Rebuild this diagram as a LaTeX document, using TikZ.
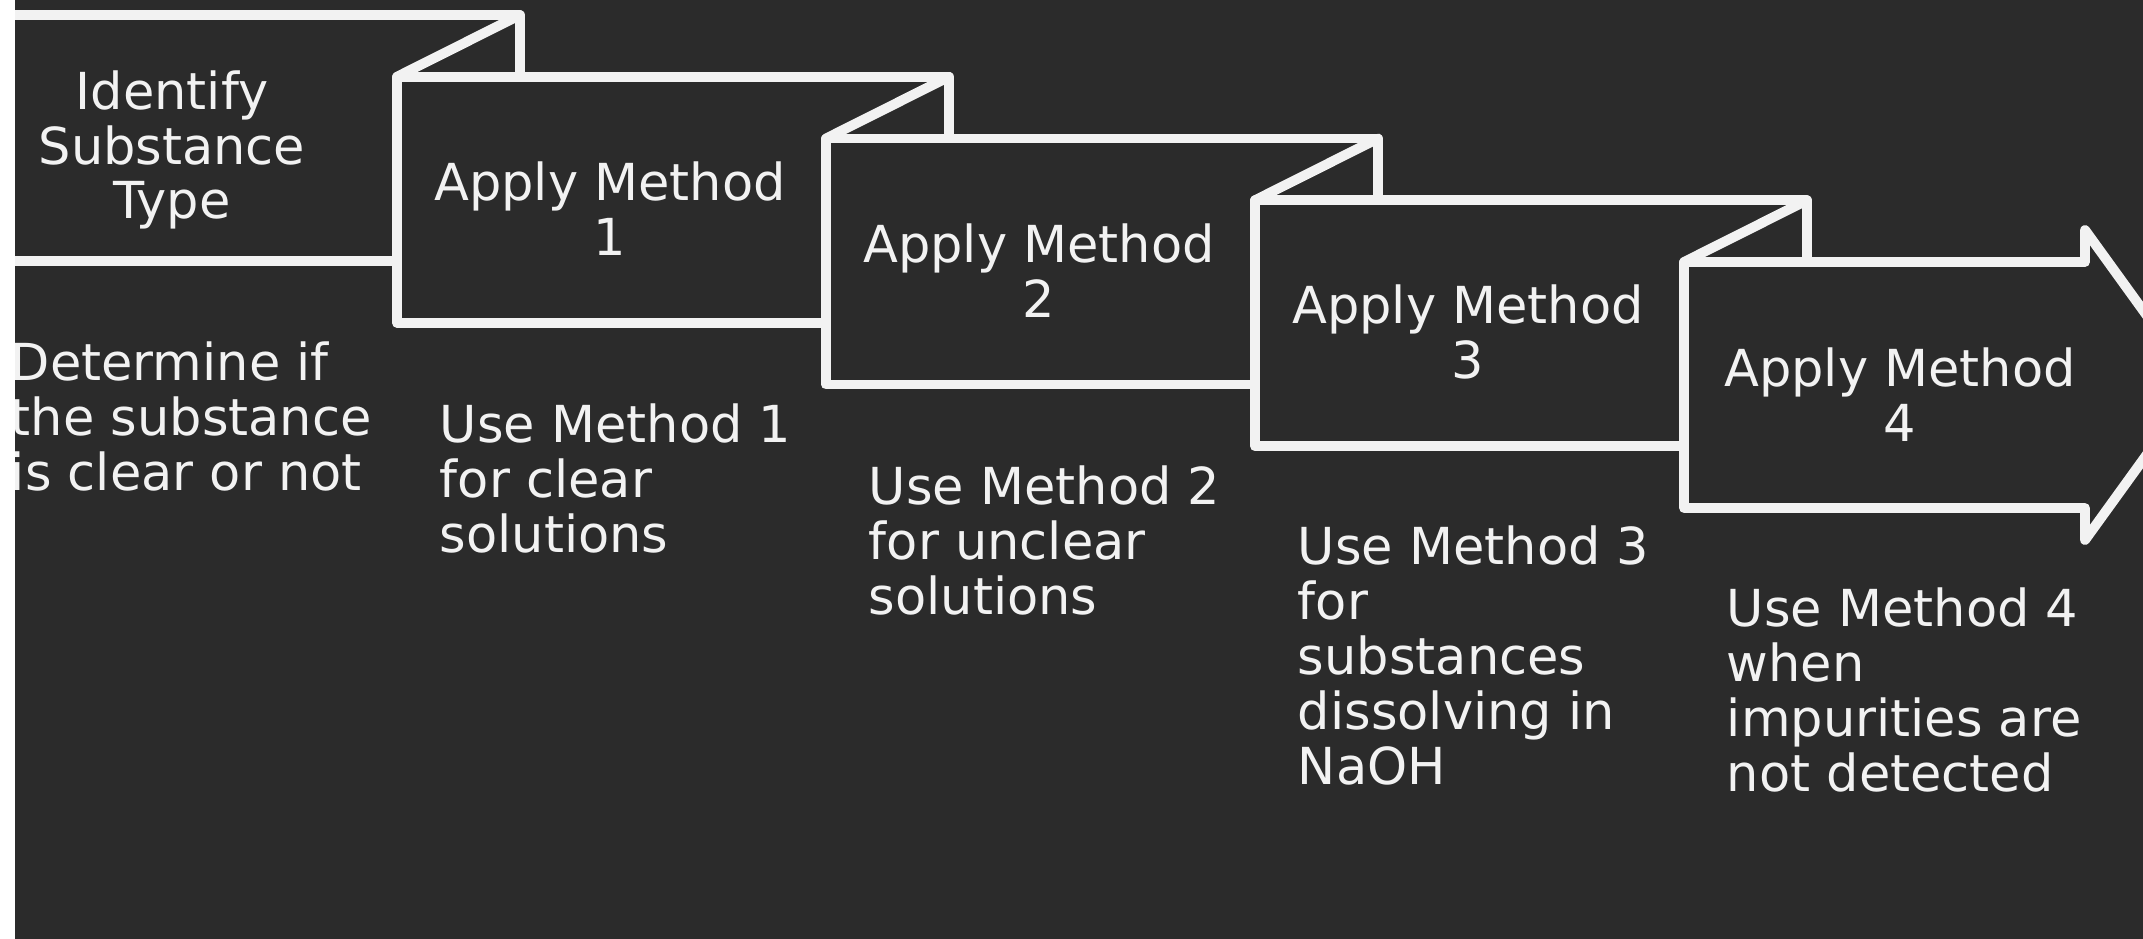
\documentclass[tikz,border=0pt]{standalone}
\usepackage{fontspec}
\setmainfont{DejaVu Sans}
\usepackage{tikz}
\definecolor{board}{HTML}{2B2B2B}
\definecolor{chalk}{HTML}{F2F2F2}

\begin{document}
\begin{tikzpicture}[x=0.01cm,y=-0.01cm,line width=2.8pt,line join=round,line cap=round,
        stage/.style={draw=chalk,fill=board},
        fold/.style={draw=chalk},
        title/.style={text=chalk,align=center,inner sep=0pt,font=\fontsize{14.5pt}{15.6pt}\selectfont},
        note/.style={text=chalk,align=left,anchor=base west,inner sep=0pt,font=\fontsize{14.5pt}{15.6pt}\selectfont}]
\useasboundingbox (0,0) rectangle (2143,938);
\fill[board] (-20,-20) rectangle (2163,958);
\draw[stage] (-32,15) rectangle (520,261);
\draw[stage] (397,76.75) rectangle (949,322.75);
\draw[fold] (520,15) -- (397,76.75);
\draw[stage] (826,138.5) rectangle (1378,384.5);
\draw[fold] (949,76.75) -- (826,138.5);
\draw[stage] (1255,200.25) rectangle (1807,446.25);
\draw[fold] (1378,138.5) -- (1255,200.25);
\draw[stage] (1684,262) -- (2085,262) -- (2085,230) -- (2197,385) -- (2085,540) -- (2085,508) -- (1684,508) -- cycle;
\draw[fold] (1807,200.25) -- (1684,262);
\node[title] (ident) at (172,150) {Identify\\Substance\\Type};
\node[title] (apply1) at (610,209) {Apply Method\\1};
\node[title] (apply2) at (1039,271) {Apply Method\\2};
\node[title] (apply3) at (1468,332) {Apply Method\\3};
\node[title] (apply4) at (1900,395) {Apply Method\\4};
\node[note] (note0) at (6,490) {Determine if\\the substance\\is clear or not};
\node[note] (note1) at (435,552) {Use Method 1\\for clear\\solutions};
\node[note] (note2) at (864,614) {Use Method 2\\for unclear\\solutions};
\node[note] (note3) at (1293,784) {Use Method 3\\for\\substances\\dissolving in\\NaOH};
\node[note] (note4) at (1722,791) {Use Method 4\\when\\impurities are\\not detected};
\fill[white] (-20,-20) rectangle (15,958);
\end{tikzpicture}
\end{document}
